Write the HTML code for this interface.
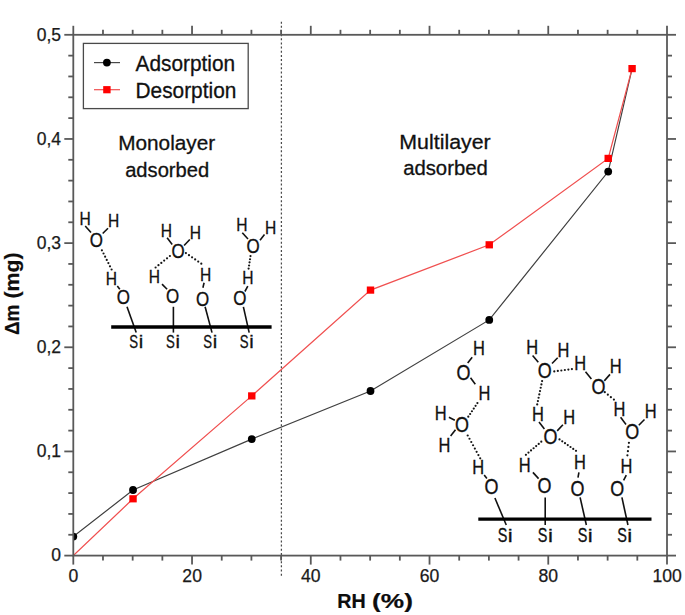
<!DOCTYPE html><html><head><meta charset="utf-8"><style>html,body{margin:0;padding:0;background:#fff;width:685px;height:615px;overflow:hidden}svg{display:block}text{font-family:"Liberation Sans",sans-serif}</style></head><body>
<svg width="685" height="615" viewBox="0 0 685 615">
<rect width="685" height="615" fill="#fff"/>
<defs><clipPath id="pc"><rect x="73.3" y="34.8" width="593.7" height="520.8000000000001"/></clipPath></defs>
<line x1="281.4" y1="21.7" x2="281.4" y2="576.5" stroke="#4a4a4a" stroke-width="1.25" stroke-dasharray="2 2.15"/>
<text x="118.19" y="149.6" font-size="20.5" textLength="97.05" lengthAdjust="spacingAndGlyphs" fill="#111" stroke="#111" stroke-width="0.3" >Monolayer</text>
<text x="125.14" y="176.8" font-size="20.5" textLength="84.06" lengthAdjust="spacingAndGlyphs" fill="#111" stroke="#111" stroke-width="0.3" >adsorbed</text>
<text x="399.35" y="149" font-size="20.5" textLength="91.3" lengthAdjust="spacingAndGlyphs" fill="#111" stroke="#111" stroke-width="0.3" >Multilayer</text>
<text x="403.14" y="175.1" font-size="20.5" textLength="84.67" lengthAdjust="spacingAndGlyphs" fill="#111" stroke="#111" stroke-width="0.3" >adsorbed</text>
<g clip-path="url(#pc)">
<polyline points="73.3,536.6 133.03,490 251.77,439.1 370.51,391 489.25,319.9 608.22,171.6 632.09,68.6" fill="none" stroke="#404040" stroke-width="1.2"/>
<polyline points="73.3,555.6 133.03,498.8 251.77,395.9 370.51,290.1 489.25,244.8 608.22,158.4 632.09,68.6" fill="none" stroke="#f05050" stroke-width="1.25"/>
<circle cx="73.3" cy="536.6" r="3.9" fill="#000"/>
<circle cx="133.03" cy="490" r="3.9" fill="#000"/>
<circle cx="251.77" cy="439.1" r="3.9" fill="#000"/>
<circle cx="370.51" cy="391" r="3.9" fill="#000"/>
<circle cx="489.25" cy="319.9" r="3.9" fill="#000"/>
<circle cx="608.22" cy="171.6" r="3.9" fill="#000"/>
<rect x="129.33" y="495.2" width="7.4" height="7.2" fill="#ff0000"/>
<rect x="248.07" y="392.3" width="7.4" height="7.2" fill="#ff0000"/>
<rect x="366.81" y="286.5" width="7.4" height="7.2" fill="#ff0000"/>
<rect x="485.55" y="241.2" width="7.4" height="7.2" fill="#ff0000"/>
<rect x="604.52" y="154.8" width="7.4" height="7.2" fill="#ff0000"/>
<rect x="628.39" y="65" width="7.4" height="7.2" fill="#ff0000"/>
</g>
<rect x="73.3" y="34.8" width="593.7" height="520.8000000000001" fill="none" stroke="#595959" stroke-width="1.8"/>
<line x1="64.3" y1="555.6" x2="73.3" y2="555.6" stroke="#595959" stroke-width="1.8" />
<line x1="667" y1="555.6" x2="676" y2="555.6" stroke="#595959" stroke-width="1.8" />
<line x1="68.3" y1="534.77" x2="73.3" y2="534.77" stroke="#595959" stroke-width="1.8" />
<line x1="667" y1="534.77" x2="672" y2="534.77" stroke="#595959" stroke-width="1.8" />
<line x1="68.3" y1="513.94" x2="73.3" y2="513.94" stroke="#595959" stroke-width="1.8" />
<line x1="667" y1="513.94" x2="672" y2="513.94" stroke="#595959" stroke-width="1.8" />
<line x1="68.3" y1="493.1" x2="73.3" y2="493.1" stroke="#595959" stroke-width="1.8" />
<line x1="667" y1="493.1" x2="672" y2="493.1" stroke="#595959" stroke-width="1.8" />
<line x1="68.3" y1="472.27" x2="73.3" y2="472.27" stroke="#595959" stroke-width="1.8" />
<line x1="667" y1="472.27" x2="672" y2="472.27" stroke="#595959" stroke-width="1.8" />
<line x1="64.3" y1="451.44" x2="73.3" y2="451.44" stroke="#595959" stroke-width="1.8" />
<line x1="667" y1="451.44" x2="676" y2="451.44" stroke="#595959" stroke-width="1.8" />
<line x1="68.3" y1="430.61" x2="73.3" y2="430.61" stroke="#595959" stroke-width="1.8" />
<line x1="667" y1="430.61" x2="672" y2="430.61" stroke="#595959" stroke-width="1.8" />
<line x1="68.3" y1="409.78" x2="73.3" y2="409.78" stroke="#595959" stroke-width="1.8" />
<line x1="667" y1="409.78" x2="672" y2="409.78" stroke="#595959" stroke-width="1.8" />
<line x1="68.3" y1="388.94" x2="73.3" y2="388.94" stroke="#595959" stroke-width="1.8" />
<line x1="667" y1="388.94" x2="672" y2="388.94" stroke="#595959" stroke-width="1.8" />
<line x1="68.3" y1="368.11" x2="73.3" y2="368.11" stroke="#595959" stroke-width="1.8" />
<line x1="667" y1="368.11" x2="672" y2="368.11" stroke="#595959" stroke-width="1.8" />
<line x1="64.3" y1="347.28" x2="73.3" y2="347.28" stroke="#595959" stroke-width="1.8" />
<line x1="667" y1="347.28" x2="676" y2="347.28" stroke="#595959" stroke-width="1.8" />
<line x1="68.3" y1="326.45" x2="73.3" y2="326.45" stroke="#595959" stroke-width="1.8" />
<line x1="667" y1="326.45" x2="672" y2="326.45" stroke="#595959" stroke-width="1.8" />
<line x1="68.3" y1="305.62" x2="73.3" y2="305.62" stroke="#595959" stroke-width="1.8" />
<line x1="667" y1="305.62" x2="672" y2="305.62" stroke="#595959" stroke-width="1.8" />
<line x1="68.3" y1="284.78" x2="73.3" y2="284.78" stroke="#595959" stroke-width="1.8" />
<line x1="667" y1="284.78" x2="672" y2="284.78" stroke="#595959" stroke-width="1.8" />
<line x1="68.3" y1="263.95" x2="73.3" y2="263.95" stroke="#595959" stroke-width="1.8" />
<line x1="667" y1="263.95" x2="672" y2="263.95" stroke="#595959" stroke-width="1.8" />
<line x1="64.3" y1="243.12" x2="73.3" y2="243.12" stroke="#595959" stroke-width="1.8" />
<line x1="667" y1="243.12" x2="676" y2="243.12" stroke="#595959" stroke-width="1.8" />
<line x1="68.3" y1="222.29" x2="73.3" y2="222.29" stroke="#595959" stroke-width="1.8" />
<line x1="667" y1="222.29" x2="672" y2="222.29" stroke="#595959" stroke-width="1.8" />
<line x1="68.3" y1="201.46" x2="73.3" y2="201.46" stroke="#595959" stroke-width="1.8" />
<line x1="667" y1="201.46" x2="672" y2="201.46" stroke="#595959" stroke-width="1.8" />
<line x1="68.3" y1="180.62" x2="73.3" y2="180.62" stroke="#595959" stroke-width="1.8" />
<line x1="667" y1="180.62" x2="672" y2="180.62" stroke="#595959" stroke-width="1.8" />
<line x1="68.3" y1="159.79" x2="73.3" y2="159.79" stroke="#595959" stroke-width="1.8" />
<line x1="667" y1="159.79" x2="672" y2="159.79" stroke="#595959" stroke-width="1.8" />
<line x1="64.3" y1="138.96" x2="73.3" y2="138.96" stroke="#595959" stroke-width="1.8" />
<line x1="667" y1="138.96" x2="676" y2="138.96" stroke="#595959" stroke-width="1.8" />
<line x1="68.3" y1="118.13" x2="73.3" y2="118.13" stroke="#595959" stroke-width="1.8" />
<line x1="667" y1="118.13" x2="672" y2="118.13" stroke="#595959" stroke-width="1.8" />
<line x1="68.3" y1="97.3" x2="73.3" y2="97.3" stroke="#595959" stroke-width="1.8" />
<line x1="667" y1="97.3" x2="672" y2="97.3" stroke="#595959" stroke-width="1.8" />
<line x1="68.3" y1="76.46" x2="73.3" y2="76.46" stroke="#595959" stroke-width="1.8" />
<line x1="667" y1="76.46" x2="672" y2="76.46" stroke="#595959" stroke-width="1.8" />
<line x1="68.3" y1="55.63" x2="73.3" y2="55.63" stroke="#595959" stroke-width="1.8" />
<line x1="667" y1="55.63" x2="672" y2="55.63" stroke="#595959" stroke-width="1.8" />
<line x1="64.3" y1="34.8" x2="73.3" y2="34.8" stroke="#595959" stroke-width="1.8" />
<line x1="667" y1="34.8" x2="676" y2="34.8" stroke="#595959" stroke-width="1.8" />
<line x1="73.3" y1="25.8" x2="73.3" y2="34.8" stroke="#595959" stroke-width="1.8" />
<line x1="73.3" y1="555.6" x2="73.3" y2="564.6" stroke="#595959" stroke-width="1.8" />
<line x1="102.98" y1="29.8" x2="102.98" y2="34.8" stroke="#595959" stroke-width="1.8" />
<line x1="102.98" y1="555.6" x2="102.98" y2="560.6" stroke="#595959" stroke-width="1.8" />
<line x1="132.67" y1="29.8" x2="132.67" y2="34.8" stroke="#595959" stroke-width="1.8" />
<line x1="132.67" y1="555.6" x2="132.67" y2="560.6" stroke="#595959" stroke-width="1.8" />
<line x1="162.36" y1="29.8" x2="162.36" y2="34.8" stroke="#595959" stroke-width="1.8" />
<line x1="162.36" y1="555.6" x2="162.36" y2="560.6" stroke="#595959" stroke-width="1.8" />
<line x1="192.04" y1="25.8" x2="192.04" y2="34.8" stroke="#595959" stroke-width="1.8" />
<line x1="192.04" y1="555.6" x2="192.04" y2="564.6" stroke="#595959" stroke-width="1.8" />
<line x1="221.73" y1="29.8" x2="221.73" y2="34.8" stroke="#595959" stroke-width="1.8" />
<line x1="221.73" y1="555.6" x2="221.73" y2="560.6" stroke="#595959" stroke-width="1.8" />
<line x1="251.41" y1="29.8" x2="251.41" y2="34.8" stroke="#595959" stroke-width="1.8" />
<line x1="251.41" y1="555.6" x2="251.41" y2="560.6" stroke="#595959" stroke-width="1.8" />
<line x1="281.09" y1="29.8" x2="281.09" y2="34.8" stroke="#595959" stroke-width="1.8" />
<line x1="281.09" y1="555.6" x2="281.09" y2="560.6" stroke="#595959" stroke-width="1.8" />
<line x1="310.78" y1="25.8" x2="310.78" y2="34.8" stroke="#595959" stroke-width="1.8" />
<line x1="310.78" y1="555.6" x2="310.78" y2="564.6" stroke="#595959" stroke-width="1.8" />
<line x1="340.47" y1="29.8" x2="340.47" y2="34.8" stroke="#595959" stroke-width="1.8" />
<line x1="340.47" y1="555.6" x2="340.47" y2="560.6" stroke="#595959" stroke-width="1.8" />
<line x1="370.15" y1="29.8" x2="370.15" y2="34.8" stroke="#595959" stroke-width="1.8" />
<line x1="370.15" y1="555.6" x2="370.15" y2="560.6" stroke="#595959" stroke-width="1.8" />
<line x1="399.84" y1="29.8" x2="399.84" y2="34.8" stroke="#595959" stroke-width="1.8" />
<line x1="399.84" y1="555.6" x2="399.84" y2="560.6" stroke="#595959" stroke-width="1.8" />
<line x1="429.52" y1="25.8" x2="429.52" y2="34.8" stroke="#595959" stroke-width="1.8" />
<line x1="429.52" y1="555.6" x2="429.52" y2="564.6" stroke="#595959" stroke-width="1.8" />
<line x1="459.2" y1="29.8" x2="459.2" y2="34.8" stroke="#595959" stroke-width="1.8" />
<line x1="459.2" y1="555.6" x2="459.2" y2="560.6" stroke="#595959" stroke-width="1.8" />
<line x1="488.89" y1="29.8" x2="488.89" y2="34.8" stroke="#595959" stroke-width="1.8" />
<line x1="488.89" y1="555.6" x2="488.89" y2="560.6" stroke="#595959" stroke-width="1.8" />
<line x1="518.57" y1="29.8" x2="518.57" y2="34.8" stroke="#595959" stroke-width="1.8" />
<line x1="518.57" y1="555.6" x2="518.57" y2="560.6" stroke="#595959" stroke-width="1.8" />
<line x1="548.26" y1="25.8" x2="548.26" y2="34.8" stroke="#595959" stroke-width="1.8" />
<line x1="548.26" y1="555.6" x2="548.26" y2="564.6" stroke="#595959" stroke-width="1.8" />
<line x1="577.95" y1="29.8" x2="577.95" y2="34.8" stroke="#595959" stroke-width="1.8" />
<line x1="577.95" y1="555.6" x2="577.95" y2="560.6" stroke="#595959" stroke-width="1.8" />
<line x1="607.63" y1="29.8" x2="607.63" y2="34.8" stroke="#595959" stroke-width="1.8" />
<line x1="607.63" y1="555.6" x2="607.63" y2="560.6" stroke="#595959" stroke-width="1.8" />
<line x1="637.32" y1="29.8" x2="637.32" y2="34.8" stroke="#595959" stroke-width="1.8" />
<line x1="637.32" y1="555.6" x2="637.32" y2="560.6" stroke="#595959" stroke-width="1.8" />
<line x1="667" y1="25.8" x2="667" y2="34.8" stroke="#595959" stroke-width="1.8" />
<line x1="667" y1="555.6" x2="667" y2="564.6" stroke="#595959" stroke-width="1.8" />
<text x="61" y="561.3" font-size="17.5" text-anchor="end" fill="#1a1a1a" stroke="#1a1a1a" stroke-width="0.25">0</text>
<text x="61" y="457.14" font-size="17.5" text-anchor="end" fill="#1a1a1a" stroke="#1a1a1a" stroke-width="0.25">0,1</text>
<text x="61" y="352.98" font-size="17.5" text-anchor="end" fill="#1a1a1a" stroke="#1a1a1a" stroke-width="0.25">0,2</text>
<text x="61" y="248.82" font-size="17.5" text-anchor="end" fill="#1a1a1a" stroke="#1a1a1a" stroke-width="0.25">0,3</text>
<text x="61" y="144.66" font-size="17.5" text-anchor="end" fill="#1a1a1a" stroke="#1a1a1a" stroke-width="0.25">0,4</text>
<text x="61" y="40.5" font-size="17.5" text-anchor="end" fill="#1a1a1a" stroke="#1a1a1a" stroke-width="0.25">0,5</text>
<text x="73.4" y="582.3" font-size="18.3" text-anchor="middle" textLength="9.79" lengthAdjust="spacingAndGlyphs" fill="#1a1a1a" stroke="#1a1a1a" stroke-width="0.25">0</text>
<text x="192.14" y="582.3" font-size="18.3" text-anchor="middle" textLength="19.58" lengthAdjust="spacingAndGlyphs" fill="#1a1a1a" stroke="#1a1a1a" stroke-width="0.25">20</text>
<text x="310.88" y="582.3" font-size="18.3" text-anchor="middle" textLength="19.58" lengthAdjust="spacingAndGlyphs" fill="#1a1a1a" stroke="#1a1a1a" stroke-width="0.25">40</text>
<text x="429.62" y="582.3" font-size="18.3" text-anchor="middle" textLength="19.58" lengthAdjust="spacingAndGlyphs" fill="#1a1a1a" stroke="#1a1a1a" stroke-width="0.25">60</text>
<text x="548.36" y="582.3" font-size="18.3" text-anchor="middle" textLength="19.58" lengthAdjust="spacingAndGlyphs" fill="#1a1a1a" stroke="#1a1a1a" stroke-width="0.25">80</text>
<text x="667.1" y="582.3" font-size="18.3" text-anchor="middle" textLength="29.36" lengthAdjust="spacingAndGlyphs" fill="#1a1a1a" stroke="#1a1a1a" stroke-width="0.25">100</text>
<text x="337.28" y="607.8" font-size="19.5" font-weight="bold" textLength="28.44" lengthAdjust="spacingAndGlyphs" fill="#0d0d0d" stroke="#0d0d0d" stroke-width="0.2" >RH</text>
<text x="372.09" y="607.8" font-size="19.5" font-weight="bold" textLength="40.81" lengthAdjust="spacingAndGlyphs" fill="#0d0d0d" stroke="#0d0d0d" stroke-width="0.2" >(%)</text>
<g transform="translate(18.9,335) rotate(-90)">
<text x="-0.07" y="0" font-size="19.5" font-weight="bold" textLength="30.44" lengthAdjust="spacingAndGlyphs" fill="#0d0d0d" stroke="#0d0d0d" stroke-width="0.2" >Δm</text>
<text x="36.54" y="0" font-size="19.5" font-weight="bold" textLength="46.02" lengthAdjust="spacingAndGlyphs" fill="#0d0d0d" stroke="#0d0d0d" stroke-width="0.2" >(mg)</text>
</g>
<rect x="83.4" y="43.4" width="164.8" height="65.2" fill="#fff" stroke="#4a4a4a" stroke-width="1.3"/>
<line x1="94" y1="62.6" x2="120" y2="62.6" stroke="#484848" stroke-width="1.2" />
<circle cx="106.9" cy="62.6" r="3.9" fill="#000"/>
<line x1="94" y1="89.7" x2="120" y2="89.7" stroke="#f05050" stroke-width="1.2" />
<rect x="103.2" y="86.1" width="7.4" height="7.2" fill="#ff0000"/>
<text x="135.56" y="70.8" font-size="21.5" textLength="99.59" lengthAdjust="spacingAndGlyphs" fill="#111" stroke="#111" stroke-width="0.3" >Adsorption</text>
<text x="135.49" y="97.5" font-size="21.5" textLength="100.87" lengthAdjust="spacingAndGlyphs" fill="#111" stroke="#111" stroke-width="0.3" >Desorption</text>
<text transform="translate(85,218.9) scale(0.89,1.0)" x="-6.32" y="6.02" font-size="17.5" fill="#111" stroke="#111" stroke-width="0.3">H</text>
<text transform="translate(113.7,221.1) scale(0.89,1.0)" x="-6.32" y="6.02" font-size="17.5" fill="#111" stroke="#111" stroke-width="0.3">H</text>
<text transform="translate(96.3,239.4) scale(0.97,1.2)" x="-6.8" y="6.02" font-size="17.5" fill="#111" stroke="#111" stroke-width="0.3">O</text>
<line x1="85.2" y1="226" x2="91" y2="232.5" stroke="#111" stroke-width="1.6" />
<line x1="108" y1="228.3" x2="102.7" y2="233.5" stroke="#111" stroke-width="1.6" />
<circle cx="101.9" cy="250.3" r="1.1" fill="#151515"/>
<circle cx="103.52" cy="253.5" r="1.1" fill="#151515"/>
<circle cx="105.13" cy="256.7" r="1.1" fill="#151515"/>
<circle cx="106.75" cy="259.9" r="1.1" fill="#151515"/>
<circle cx="108.37" cy="263.1" r="1.1" fill="#151515"/>
<circle cx="109.98" cy="266.3" r="1.1" fill="#151515"/>
<circle cx="111.6" cy="269.5" r="1.1" fill="#151515"/>
<text transform="translate(111.4,278.5) scale(0.89,1.0)" x="-6.32" y="6.02" font-size="17.5" fill="#111" stroke="#111" stroke-width="0.3">H</text>
<line x1="117.3" y1="286" x2="119.8" y2="289.3" stroke="#111" stroke-width="1.6" />
<text transform="translate(123.3,296.6) scale(0.97,1.2)" x="-6.8" y="6.02" font-size="17.5" fill="#111" stroke="#111" stroke-width="0.3">O</text>
<line x1="127" y1="306.8" x2="136.22" y2="332.6" stroke="#111" stroke-width="1.6" />
<text transform="translate(133.6,341.55) scale(0.755,1.07)" x="-5.83" y="6.02" font-size="17.5" fill="#111" stroke="#111" stroke-width="0.3">S</text>
<text transform="translate(140.85,341.55) scale(1.15,1.0)" x="-1.94" y="6.34" font-size="17.5" fill="#111" stroke="#111" stroke-width="0.3">i</text>
<text transform="translate(166.4,230.7) scale(0.89,1.0)" x="-6.32" y="6.02" font-size="17.5" fill="#111" stroke="#111" stroke-width="0.3">H</text>
<text transform="translate(195.3,232.7) scale(0.89,1.0)" x="-6.32" y="6.02" font-size="17.5" fill="#111" stroke="#111" stroke-width="0.3">H</text>
<text transform="translate(178.2,250.8) scale(0.97,1.2)" x="-6.8" y="6.02" font-size="17.5" fill="#111" stroke="#111" stroke-width="0.3">O</text>
<line x1="167.1" y1="237.8" x2="172.2" y2="244.4" stroke="#111" stroke-width="1.6" />
<line x1="189.8" y1="239.5" x2="184.1" y2="245.5" stroke="#111" stroke-width="1.6" />
<circle cx="169.9" cy="256" r="1.1" fill="#151515"/>
<circle cx="167.04" cy="258.3" r="1.1" fill="#151515"/>
<circle cx="164.18" cy="260.6" r="1.1" fill="#151515"/>
<circle cx="161.32" cy="262.9" r="1.1" fill="#151515"/>
<circle cx="158.46" cy="265.2" r="1.1" fill="#151515"/>
<circle cx="155.6" cy="267.5" r="1.1" fill="#151515"/>
<circle cx="185.9" cy="253.1" r="1.1" fill="#151515"/>
<circle cx="188.98" cy="255.22" r="1.1" fill="#151515"/>
<circle cx="192.06" cy="257.34" r="1.1" fill="#151515"/>
<circle cx="195.14" cy="259.46" r="1.1" fill="#151515"/>
<circle cx="198.22" cy="261.58" r="1.1" fill="#151515"/>
<circle cx="201.3" cy="263.7" r="1.1" fill="#151515"/>
<text transform="translate(154.3,276.9) scale(0.89,1.0)" x="-6.32" y="6.02" font-size="17.5" fill="#111" stroke="#111" stroke-width="0.3">H</text>
<line x1="162" y1="284.1" x2="167.1" y2="289.3" stroke="#111" stroke-width="1.6" />
<text transform="translate(172.5,295.9) scale(0.97,1.2)" x="-6.8" y="6.02" font-size="17.5" fill="#111" stroke="#111" stroke-width="0.3">O</text>
<line x1="173.4" y1="306.8" x2="173.4" y2="332.6" stroke="#111" stroke-width="1.6" />
<text transform="translate(170.5,341.85) scale(0.755,1.07)" x="-5.83" y="6.02" font-size="17.5" fill="#111" stroke="#111" stroke-width="0.3">S</text>
<text transform="translate(177.75,341.85) scale(1.15,1.0)" x="-1.94" y="6.34" font-size="17.5" fill="#111" stroke="#111" stroke-width="0.3">i</text>
<text transform="translate(205.5,274.7) scale(0.89,1.0)" x="-6.32" y="6.02" font-size="17.5" fill="#111" stroke="#111" stroke-width="0.3">H</text>
<line x1="204.1" y1="282.7" x2="202.9" y2="287.8" stroke="#111" stroke-width="1.6" />
<text transform="translate(202.5,298.8) scale(0.97,1.2)" x="-6.8" y="6.02" font-size="17.5" fill="#111" stroke="#111" stroke-width="0.3">O</text>
<line x1="205.1" y1="306.8" x2="212.02" y2="332.6" stroke="#111" stroke-width="1.6" />
<text transform="translate(207.6,341.85) scale(0.755,1.07)" x="-5.83" y="6.02" font-size="17.5" fill="#111" stroke="#111" stroke-width="0.3">S</text>
<text transform="translate(214.85,341.85) scale(1.15,1.0)" x="-1.94" y="6.34" font-size="17.5" fill="#111" stroke="#111" stroke-width="0.3">i</text>
<text transform="translate(241.8,225.4) scale(0.89,1.0)" x="-6.32" y="6.02" font-size="17.5" fill="#111" stroke="#111" stroke-width="0.3">H</text>
<text transform="translate(270.5,227.7) scale(0.89,1.0)" x="-6.32" y="6.02" font-size="17.5" fill="#111" stroke="#111" stroke-width="0.3">H</text>
<text transform="translate(253.1,246.2) scale(0.97,1.2)" x="-6.8" y="6.02" font-size="17.5" fill="#111" stroke="#111" stroke-width="0.3">O</text>
<line x1="242.3" y1="232.8" x2="248" y2="239" stroke="#111" stroke-width="1.6" />
<line x1="264.5" y1="234.5" x2="260" y2="240.2" stroke="#111" stroke-width="1.6" />
<circle cx="250.5" cy="256.1" r="1.1" fill="#151515"/>
<circle cx="250.03" cy="259.23" r="1.1" fill="#151515"/>
<circle cx="249.55" cy="262.35" r="1.1" fill="#151515"/>
<circle cx="249.07" cy="265.48" r="1.1" fill="#151515"/>
<circle cx="248.6" cy="268.6" r="1.1" fill="#151515"/>
<text transform="translate(247.8,278) scale(0.89,1.0)" x="-6.32" y="6.02" font-size="17.5" fill="#111" stroke="#111" stroke-width="0.3">H</text>
<line x1="247.8" y1="286.1" x2="244.9" y2="291.5" stroke="#111" stroke-width="1.6" />
<text transform="translate(239.8,298.1) scale(0.97,1.2)" x="-6.8" y="6.02" font-size="17.5" fill="#111" stroke="#111" stroke-width="0.3">O</text>
<line x1="243.4" y1="306.9" x2="249.18" y2="332.6" stroke="#111" stroke-width="1.6" />
<text transform="translate(244.1,341.95) scale(0.755,1.07)" x="-5.83" y="6.02" font-size="17.5" fill="#111" stroke="#111" stroke-width="0.3">S</text>
<text transform="translate(251.35,341.95) scale(1.15,1.0)" x="-1.94" y="6.34" font-size="17.5" fill="#111" stroke="#111" stroke-width="0.3">i</text>
<line x1="111.2" y1="327" x2="271.6" y2="327" stroke="#000" stroke-width="3.3" />
<text transform="translate(478.9,347.8) scale(0.89,1.07)" x="-6.68" y="6.36" font-size="18.5" fill="#111" stroke="#111" stroke-width="0.3">H</text>
<line x1="472.2" y1="357.2" x2="467.7" y2="362.9" stroke="#111" stroke-width="1.6" />
<text transform="translate(463.5,372.3) scale(0.97,1.19)" x="-7.19" y="6.37" font-size="18.5" fill="#111" stroke="#111" stroke-width="0.3">O</text>
<line x1="470.5" y1="377.7" x2="475.3" y2="384.2" stroke="#111" stroke-width="1.6" />
<text transform="translate(484.5,393) scale(0.89,1.07)" x="-6.68" y="6.36" font-size="18.5" fill="#111" stroke="#111" stroke-width="0.3">H</text>
<circle cx="477.4" cy="403.1" r="1.1" fill="#151515"/>
<circle cx="475.58" cy="405.82" r="1.1" fill="#151515"/>
<circle cx="473.76" cy="408.54" r="1.1" fill="#151515"/>
<circle cx="471.94" cy="411.26" r="1.1" fill="#151515"/>
<circle cx="470.12" cy="413.98" r="1.1" fill="#151515"/>
<circle cx="468.3" cy="416.7" r="1.1" fill="#151515"/>
<text transform="translate(440.6,413.4) scale(0.89,1.07)" x="-6.68" y="6.36" font-size="18.5" fill="#111" stroke="#111" stroke-width="0.3">H</text>
<line x1="448.9" y1="417.3" x2="454.8" y2="420.2" stroke="#111" stroke-width="1.6" />
<text transform="translate(462,424.6) scale(0.97,1.19)" x="-7.19" y="6.37" font-size="18.5" fill="#111" stroke="#111" stroke-width="0.3">O</text>
<line x1="455.5" y1="429.8" x2="450.6" y2="436.1" stroke="#111" stroke-width="1.6" />
<text transform="translate(444.4,445.2) scale(0.89,1.07)" x="-6.68" y="6.36" font-size="18.5" fill="#111" stroke="#111" stroke-width="0.3">H</text>
<circle cx="467.7" cy="435.5" r="1.1" fill="#151515"/>
<circle cx="469.49" cy="438.76" r="1.1" fill="#151515"/>
<circle cx="471.27" cy="442.01" r="1.1" fill="#151515"/>
<circle cx="473.06" cy="445.27" r="1.1" fill="#151515"/>
<circle cx="474.84" cy="448.53" r="1.1" fill="#151515"/>
<circle cx="476.63" cy="451.79" r="1.1" fill="#151515"/>
<circle cx="478.41" cy="455.04" r="1.1" fill="#151515"/>
<circle cx="480.2" cy="458.3" r="1.1" fill="#151515"/>
<text transform="translate(478.1,466.9) scale(0.89,1.07)" x="-6.68" y="6.36" font-size="18.5" fill="#111" stroke="#111" stroke-width="0.3">H</text>
<line x1="484.2" y1="475.1" x2="486.9" y2="478.6" stroke="#111" stroke-width="1.6" />
<text transform="translate(491.5,486.6) scale(0.97,1.19)" x="-7.19" y="6.37" font-size="18.5" fill="#111" stroke="#111" stroke-width="0.3">O</text>
<line x1="494.9" y1="498" x2="506.27" y2="525" stroke="#111" stroke-width="1.6" />
<text transform="translate(502.45,534.85) scale(0.78,1.1)" x="-6.17" y="6.37" font-size="18.5" fill="#111" stroke="#111" stroke-width="0.3">S</text>
<text transform="translate(510.2,534.9) scale(1.2,1.0)" x="-2.05" y="6.7" font-size="18.5" fill="#111" stroke="#111" stroke-width="0.3">i</text>
<text transform="translate(532.3,347.2) scale(0.89,1.07)" x="-6.68" y="6.36" font-size="18.5" fill="#111" stroke="#111" stroke-width="0.3">H</text>
<text transform="translate(563.5,349.7) scale(0.89,1.07)" x="-6.68" y="6.36" font-size="18.5" fill="#111" stroke="#111" stroke-width="0.3">H</text>
<text transform="translate(544.6,370.2) scale(0.97,1.19)" x="-7.19" y="6.37" font-size="18.5" fill="#111" stroke="#111" stroke-width="0.3">O</text>
<line x1="532.6" y1="355.5" x2="538.3" y2="362.3" stroke="#111" stroke-width="1.6" />
<line x1="557.7" y1="357.8" x2="552" y2="363.5" stroke="#111" stroke-width="1.6" />
<circle cx="554.3" cy="371.4" r="1.1" fill="#151515"/>
<circle cx="557.82" cy="370.94" r="1.1" fill="#151515"/>
<circle cx="561.34" cy="370.48" r="1.1" fill="#151515"/>
<circle cx="564.86" cy="370.02" r="1.1" fill="#151515"/>
<circle cx="568.38" cy="369.56" r="1.1" fill="#151515"/>
<circle cx="571.9" cy="369.1" r="1.1" fill="#151515"/>
<circle cx="542.1" cy="381.1" r="1.1" fill="#151515"/>
<circle cx="541.4" cy="384.43" r="1.1" fill="#151515"/>
<circle cx="540.7" cy="387.76" r="1.1" fill="#151515"/>
<circle cx="540" cy="391.09" r="1.1" fill="#151515"/>
<circle cx="539.3" cy="394.41" r="1.1" fill="#151515"/>
<circle cx="538.6" cy="397.74" r="1.1" fill="#151515"/>
<circle cx="537.9" cy="401.07" r="1.1" fill="#151515"/>
<circle cx="537.2" cy="404.4" r="1.1" fill="#151515"/>
<text transform="translate(580.2,363) scale(0.89,1.07)" x="-6.68" y="6.36" font-size="18.5" fill="#111" stroke="#111" stroke-width="0.3">H</text>
<text transform="translate(615.8,366) scale(0.89,1.07)" x="-6.68" y="6.36" font-size="18.5" fill="#111" stroke="#111" stroke-width="0.3">H</text>
<text transform="translate(598.5,386.2) scale(0.97,1.19)" x="-7.19" y="6.37" font-size="18.5" fill="#111" stroke="#111" stroke-width="0.3">O</text>
<line x1="585.5" y1="371.7" x2="591.4" y2="379.1" stroke="#111" stroke-width="1.6" />
<line x1="610" y1="374.4" x2="604.3" y2="380.9" stroke="#111" stroke-width="1.6" />
<circle cx="604.8" cy="392.2" r="1.1" fill="#151515"/>
<circle cx="607.83" cy="394.67" r="1.1" fill="#151515"/>
<circle cx="610.87" cy="397.13" r="1.1" fill="#151515"/>
<circle cx="613.9" cy="399.6" r="1.1" fill="#151515"/>
<text transform="translate(538,414.4) scale(0.89,1.07)" x="-6.68" y="6.36" font-size="18.5" fill="#111" stroke="#111" stroke-width="0.3">H</text>
<text transform="translate(569.2,416.7) scale(0.89,1.07)" x="-6.68" y="6.36" font-size="18.5" fill="#111" stroke="#111" stroke-width="0.3">H</text>
<text transform="translate(550.4,436.8) scale(0.97,1.19)" x="-7.19" y="6.37" font-size="18.5" fill="#111" stroke="#111" stroke-width="0.3">O</text>
<line x1="539" y1="422.1" x2="544.4" y2="429.1" stroke="#111" stroke-width="1.6" />
<line x1="562.9" y1="424.8" x2="557.2" y2="430.9" stroke="#111" stroke-width="1.6" />
<circle cx="541.3" cy="441.7" r="1.1" fill="#151515"/>
<circle cx="538.73" cy="443.88" r="1.1" fill="#151515"/>
<circle cx="536.17" cy="446.07" r="1.1" fill="#151515"/>
<circle cx="533.6" cy="448.25" r="1.1" fill="#151515"/>
<circle cx="531.03" cy="450.43" r="1.1" fill="#151515"/>
<circle cx="528.47" cy="452.62" r="1.1" fill="#151515"/>
<circle cx="525.9" cy="454.8" r="1.1" fill="#151515"/>
<circle cx="559.5" cy="439.4" r="1.1" fill="#151515"/>
<circle cx="562.25" cy="441.3" r="1.1" fill="#151515"/>
<circle cx="565" cy="443.2" r="1.1" fill="#151515"/>
<circle cx="567.75" cy="445.1" r="1.1" fill="#151515"/>
<circle cx="570.5" cy="447" r="1.1" fill="#151515"/>
<circle cx="573.25" cy="448.9" r="1.1" fill="#151515"/>
<circle cx="576" cy="450.8" r="1.1" fill="#151515"/>
<text transform="translate(619.5,408.8) scale(0.89,1.07)" x="-6.68" y="6.36" font-size="18.5" fill="#111" stroke="#111" stroke-width="0.3">H</text>
<text transform="translate(650.7,411.2) scale(0.89,1.07)" x="-6.68" y="6.36" font-size="18.5" fill="#111" stroke="#111" stroke-width="0.3">H</text>
<text transform="translate(632.2,431.6) scale(0.97,1.19)" x="-7.19" y="6.37" font-size="18.5" fill="#111" stroke="#111" stroke-width="0.3">O</text>
<line x1="620.6" y1="417.2" x2="626" y2="424.4" stroke="#111" stroke-width="1.6" />
<line x1="644.5" y1="419.5" x2="638.8" y2="425.2" stroke="#111" stroke-width="1.6" />
<circle cx="628.9" cy="442.8" r="1.1" fill="#151515"/>
<circle cx="628.4" cy="446.97" r="1.1" fill="#151515"/>
<circle cx="627.9" cy="451.13" r="1.1" fill="#151515"/>
<circle cx="627.4" cy="455.3" r="1.1" fill="#151515"/>
<text transform="translate(524.6,465.6) scale(0.89,1.07)" x="-6.68" y="6.36" font-size="18.5" fill="#111" stroke="#111" stroke-width="0.3">H</text>
<line x1="532.9" y1="472.4" x2="538.6" y2="478.6" stroke="#111" stroke-width="1.6" />
<text transform="translate(544.5,485.7) scale(0.97,1.19)" x="-7.19" y="6.37" font-size="18.5" fill="#111" stroke="#111" stroke-width="0.3">O</text>
<line x1="545.2" y1="497.4" x2="545.2" y2="525" stroke="#111" stroke-width="1.6" />
<text transform="translate(542.65,534.95) scale(0.78,1.1)" x="-6.17" y="6.37" font-size="18.5" fill="#111" stroke="#111" stroke-width="0.3">S</text>
<text transform="translate(550.4,535) scale(1.2,1.0)" x="-2.05" y="6.7" font-size="18.5" fill="#111" stroke="#111" stroke-width="0.3">i</text>
<text transform="translate(580,462.1) scale(0.89,1.07)" x="-6.68" y="6.36" font-size="18.5" fill="#111" stroke="#111" stroke-width="0.3">H</text>
<line x1="578.9" y1="472.4" x2="578" y2="477.7" stroke="#111" stroke-width="1.6" />
<text transform="translate(577.5,488.7) scale(0.97,1.19)" x="-7.19" y="6.37" font-size="18.5" fill="#111" stroke="#111" stroke-width="0.3">O</text>
<line x1="580.1" y1="497.4" x2="586.36" y2="525" stroke="#111" stroke-width="1.6" />
<text transform="translate(582.45,534.95) scale(0.78,1.1)" x="-6.17" y="6.37" font-size="18.5" fill="#111" stroke="#111" stroke-width="0.3">S</text>
<text transform="translate(590.2,535) scale(1.2,1.0)" x="-2.05" y="6.7" font-size="18.5" fill="#111" stroke="#111" stroke-width="0.3">i</text>
<text transform="translate(626.4,466.6) scale(0.89,1.07)" x="-6.68" y="6.36" font-size="18.5" fill="#111" stroke="#111" stroke-width="0.3">H</text>
<line x1="626.3" y1="475.1" x2="623.6" y2="480.4" stroke="#111" stroke-width="1.6" />
<text transform="translate(617.2,488.1) scale(0.97,1.19)" x="-7.19" y="6.37" font-size="18.5" fill="#111" stroke="#111" stroke-width="0.3">O</text>
<line x1="621.9" y1="497.4" x2="627.95" y2="525" stroke="#111" stroke-width="1.6" />
<text transform="translate(622.05,535.05) scale(0.78,1.1)" x="-6.17" y="6.37" font-size="18.5" fill="#111" stroke="#111" stroke-width="0.3">S</text>
<text transform="translate(629.8,535.1) scale(1.2,1.0)" x="-2.05" y="6.7" font-size="18.5" fill="#111" stroke="#111" stroke-width="0.3">i</text>
<line x1="478.3" y1="519.1" x2="651.5" y2="519.1" stroke="#000" stroke-width="3.3" />
</svg></body></html>
